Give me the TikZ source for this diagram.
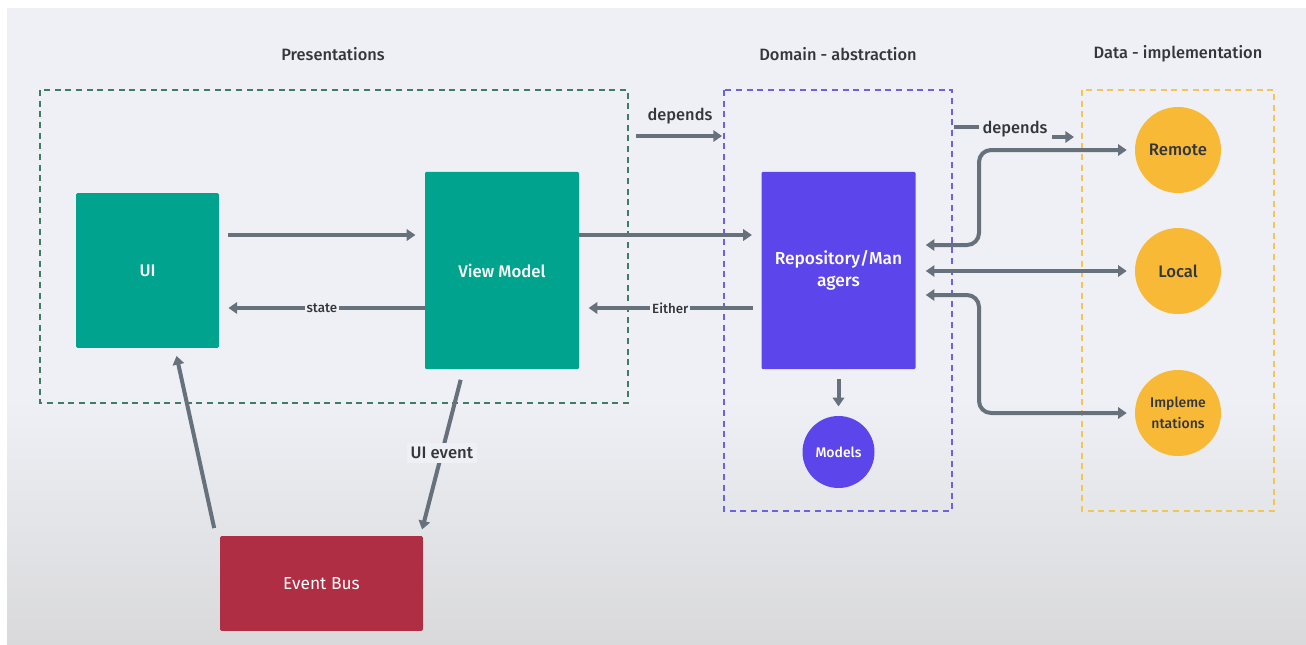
\documentclass[tikz,border=0pt]{standalone}
\usepackage{fontspec}
\setmainfont{Fira Sans}
\newfontfamily\medium{Fira Sans Medium}
\usetikzlibrary{arrows.meta}
\definecolor{bgtop}{HTML}{EEF0F5}
\definecolor{bgbot}{HTML}{D9D9DB}
\definecolor{teal}{HTML}{00A38D}
\definecolor{violet}{HTML}{5B45EB}
\definecolor{crimson}{HTML}{B02E43}
\definecolor{amber}{HTML}{F8B937}
\definecolor{arrowgray}{HTML}{66717C}
\definecolor{textgray}{HTML}{33373C}
\definecolor{greendash}{HTML}{3E7D62}
\definecolor{bluedash}{HTML}{6C61E3}
\definecolor{yellowdash}{HTML}{F2C652}

\tikzset{
    box/.style={rectangle, rounded corners=1pt, text=white, inner sep=0pt, align=center,
        font=\medium\fontsize{12.6pt}{15pt}\selectfont},
    disc/.style={circle, inner sep=0pt, align=center, text=textgray,
        font=\medium\fontsize{12.5pt}{15pt}\selectfont},
    flow/.style={draw=arrowgray, line width=3pt, -{Triangle[length=6.5pt,width=8.5pt]}},
    biflow/.style={draw=arrowgray, line width=3pt, rounded corners=9pt,
        {Triangle[length=6.5pt,width=8.5pt]}-{Triangle[length=6.5pt,width=8.5pt]}},
    layerbox/.style={line width=1.8pt, dash pattern=on 4.5pt off 3.5pt},
    lbl/.style={fill=bgtop, inner sep=1.5pt, text=textgray, font=\medium\fontsize{10pt}{12pt}\selectfont},
    heading/.style={text=textgray, font=\medium\fontsize{12.3pt}{14pt}\selectfont},
}

\begin{document}
\begin{tikzpicture}[x=0.75pt,y=0.75pt,yscale=-1,xscale=1]
% background
\useasboundingbox (0,0) rectangle (1306,644);
\fill[white] (0,0) rectangle (1306,644);
\fill[bgtop] (7,8) rectangle (1306,400);
\shade[top color=bgtop, bottom color=bgbot] (7,400) rectangle (1306,644);

% layers
\draw[layerbox, draw=greendash] (40,90) rectangle (628,403);
\draw[layerbox, draw=bluedash] (724,90) rectangle (952,511);
\draw[layerbox, draw=yellowdash] (1082,90) rectangle (1274,511);
\node[heading] (tpres) at (333,54) {Presentations};
\node[heading] (tdom) at (838,54) {Domain - abstraction};
\node[heading] (tdata) at (1178,54) {Data - implementation};

% nodes
\node[box, fill=teal, minimum width=107pt, minimum height=116pt] (ui) at (147.5,270.5) {UI};
\node[box, fill=teal, minimum width=115.5pt, minimum height=148pt] (vm) at (502,270.5) {View Model};
\node[box, fill=violet, minimum width=115.5pt, minimum height=148pt, font=\medium\fontsize{13pt}{17pt}\selectfont] (repo) at (838.5,270.5) {Repository/Man\\agers};
\node[box, fill=crimson, minimum width=152pt, minimum height=71pt, font=\fontsize{13pt}{15pt}\selectfont] (bus) at (321.5,583.5) {Event Bus};
\node[disc, fill=violet, text=white, minimum size=54pt, font=\medium\fontsize{10.5pt}{12pt}\selectfont] (models) at (838.5,452) {Models};
\node[disc, fill=amber, minimum size=64.5pt] (remote) at (1178,150) {Remote};
\node[disc, fill=amber, minimum size=64.5pt] (local) at (1178,271) {Local};
\node[disc, fill=amber, minimum size=64.5pt, font=\medium\fontsize{10.5pt}{16pt}\selectfont] (impl) at (1178,413) {Impleme\\ntations};

% levels
\coordinate (lvA) at (0,235);
\coordinate (lvB) at (0,308);
\coordinate (lvC) at (0,245);
\coordinate (lvD) at (0,295);
\coordinate (busX) at (979,0);

% presentation connectors
\draw[flow, shorten <=7pt, shorten >=7pt] (ui.east |- lvA) -- (vm.west |- lvA);
\draw[flow, shorten >=7pt] (vm.west |- lvB) -- node[lbl] (lstate) {state} (ui.east |- lvB);
\draw[flow, shorten <=8pt, shorten >=5pt] ([xshift=-29pt]vm.south) -- node[lbl, fill=none, font=\medium\fontsize{12.5pt}{14pt}\selectfont] (levent) {\colorbox{bgtop}{UI event}} ([xshift=-2pt]bus.north east);
\draw[flow, shorten <=6pt, shorten >=6pt] ([xshift=-3pt]bus.north west) -- ([xshift=20.5pt]ui.south);

% domain connectors
\draw[flow, shorten >=7pt] (vm.east |- lvA) -- (repo.west |- lvA);
\draw[flow, shorten <=6pt, shorten >=7pt] (repo.west |- lvB) -- node[lbl] (leither) {Either} (vm.east |- lvB);
\draw[flow, shorten <=7pt, shorten >=7pt] (repo.south) -- (models.north);

% depends
\coordinate (depA) at (636,136);
\coordinate (depB) at (722,136);
\draw[flow] (depA) -- (depB);
\node[heading] (ldepA) at (680,116) {depends};
\coordinate (depC) at (954,127);
\coordinate (depD) at (979,127);
\coordinate (depE) at (1052,137);
\coordinate (depF) at (1074,137);
\draw[draw=arrowgray, line width=3pt] (depC) -- (depD);
\node[heading] (ldepB) at (1015,129) {depends};
\draw[flow] (depE) -- (depF);

% data connectors
\draw[biflow, shorten <=7.5pt, shorten >=6pt] (repo.east |- lvC) -| (busX |- remote.west) -- (remote.west);
\draw[biflow, shorten <=7.5pt, shorten >=6pt] (repo.east |- local.west) -- (local.west);
\draw[biflow, shorten <=7.5pt, shorten >=6pt] (repo.east |- lvD) -| (busX |- impl.west) -- (impl.west);
\end{tikzpicture}
\end{document}
